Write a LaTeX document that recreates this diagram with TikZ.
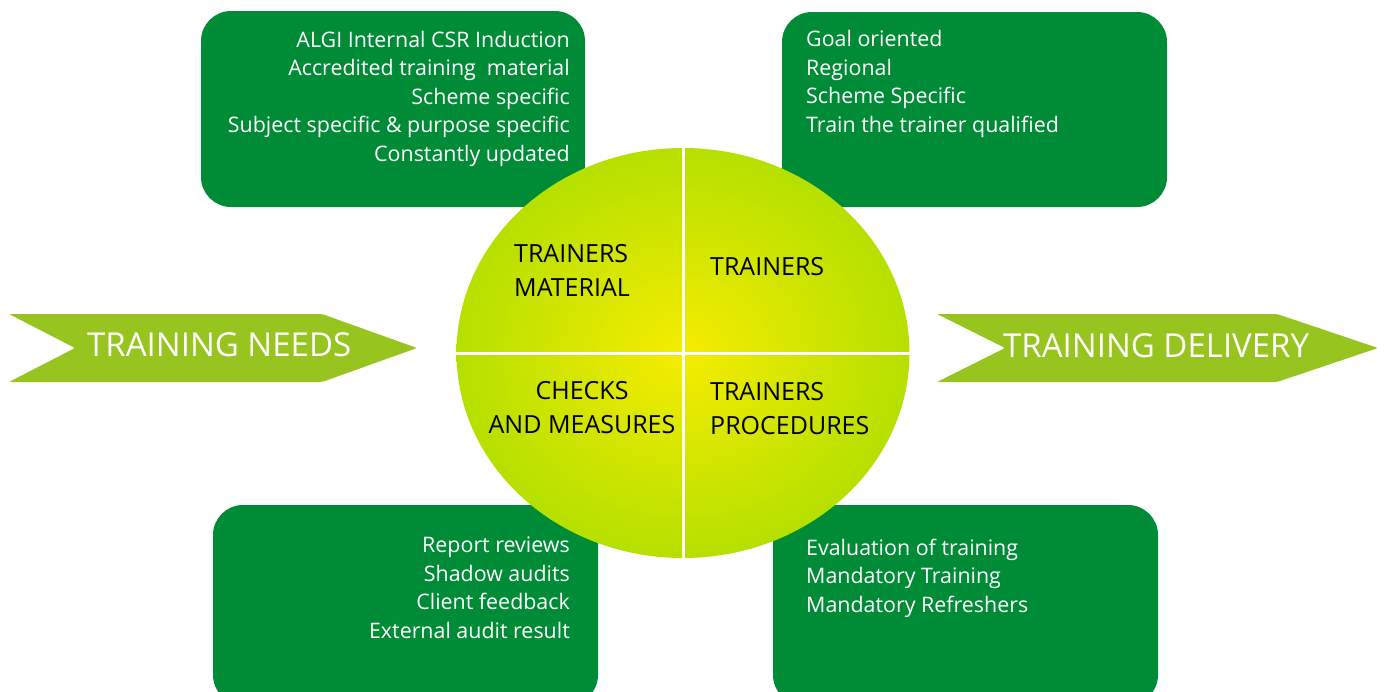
\documentclass[tikz,border=0pt]{standalone}
\usepackage{fontspec}
\setmainfont{Open Sans}
\usetikzlibrary{shapes.geometric}
\definecolor{boxgreen}{RGB}{0,140,55}
\definecolor{arrowgreen}{RGB}{151,196,30}
\definecolor{circgreen}{RGB}{181,224,0}
\definecolor{circyellow}{RGB}{246,236,0}
\tikzset{
  box/.style={draw=none, fill=boxgreen, rounded corners=30pt, inner sep=0pt},
  boxtext/.style={text=white, inner sep=0pt, font=\fontsize{21.4}{28.6}\selectfont},
  circtext/.style={text=black, inner sep=0pt, font=\fontsize{25}{34}\selectfont},
  arrowshape/.style={fill=arrowgreen, draw=none, rounded corners=2pt},
  arrowtext/.style={text=white, inner sep=0pt, font=\fontsize{33}{40}\selectfont},
  divider/.style={draw=white, line width=3pt},
}
\begin{document}
\begin{tikzpicture}[x=1pt,y=-1pt]
\useasboundingbox (0,0) rectangle (1386,691);
\clip (0,0) rectangle (1386,691);
% boxes
\node[box, minimum width=384pt, minimum height=196pt] (tl) at (393,109) {};
\node[box, minimum width=385pt, minimum height=195pt] (tr) at (974.5,109.5) {};
\node[box, minimum width=385pt, minimum height=200pt] (bl) at (405.5,605) {};
\node[box, minimum width=385pt, minimum height=200pt] (br) at (965.5,605) {};
% box texts (base anchor = last line)
\node[boxtext, anchor=base east, align=right] (tltext) at (570,161.5) {ALGI Internal CSR Induction\\Accredited training\ \ material\\Scheme specific\\Subject specific \& purpose specific\\Constantly updated};
\node[boxtext, anchor=base west, align=left] (trtext) at (806,132.5) {Goal oriented\\Regional\\Scheme Specific\\Train the trainer qualified};
\node[boxtext, anchor=base east, align=right] (bltext) at (570,638.5) {Report reviews\\Shadow audits\\Client feedback\\External audit result};
\node[boxtext, anchor=base west, align=left] (brtext) at (806,612.5) {Evaluation of training\\Mandatory Training\\Mandatory Refreshers};
% arrows
\path[arrowshape] (9,314) -- (322,314) -- (417,348) -- (322,382) -- (9,382) -- (75,348) -- cycle;
\path[arrowshape] (937,314) -- (1277,314) -- (1378,348) -- (1277,382) -- (937,382) -- (1005,348) -- cycle;
\node[arrowtext, anchor=base west] (needs) at (87,356) {TRAINING NEEDS};
\node[arrowtext, anchor=base west] (delivery) at (1003,357) {TRAINING DELIVERY};
% circle
\node[ellipse, minimum width=453pt, minimum height=410pt, inner sep=0pt, draw=none,
      inner color=circyellow, outer color=circgreen] (circ) at (683,353) {};
\draw[divider] (circ.north) -- (circ.south);
\draw[divider] (circ.west) -- (circ.east);
% circle texts
\node[circtext, anchor=base west, align=left] (mat) at (514,296) {TRAINERS\\MATERIAL};
\node[circtext, anchor=base west, align=left] (trn) at (710,275) {TRAINERS};
\node[circtext, anchor=base, align=center] (chk) at (582,433) {CHECKS\\AND MEASURES};
\node[circtext, anchor=base west, align=left] (proc) at (710,434) {TRAINERS\\PROCEDURES};
\end{tikzpicture}
\end{document}
